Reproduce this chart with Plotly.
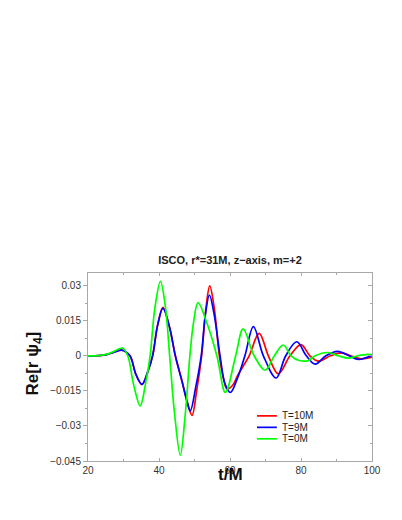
import plotly.graph_objects as go

# ---- data ----
series_names = ["T=10M", "T=9M", "T=0M"]
series_colors = ["#ff0000", "#0000ff", "#00ff00"]

t_red = [20, 23, 25.5, 27.5, 29.5, 31.8, 33.5, 35.2, 36.8, 38.2, 39.6, 41.1, 43.0, 44.6, 46.5, 48.0, 49.3,
         50.6, 52.0, 53.2, 54.3, 55.6, 57.0, 58.2, 59.2, 60.8, 62.3, 65.4, 68.2, 70.8, 73.6, 76.9, 80.0,
         82.5, 85.0, 88.3, 91.5, 94.0, 96.8, 100]
v_red = [0, 0.0001, 0.0006, 0.0016, 0.0024, 0, -0.008, -0.0123, -0.007, 0, 0.013, 0.0207, 0.012, 0, -0.011,
         -0.020, -0.0255, -0.015, 0, 0.020, 0.0299, 0.020, 0, -0.010, -0.0142, -0.0125, -0.008, 0, 0.0096,
         0, -0.0077, 0, 0.0048, 0, -0.0023, 0, 0.0012, 0, -0.0013, -0.0006]

t_blue = [20, 23, 25.5, 27.5, 29.5, 31.8, 33.5, 35.2, 36.8, 38.2, 39.6, 41.1, 43.0, 44.6, 46.5, 47.8, 48.8,
          50.4, 51.9, 53.1, 54.2, 55.5, 57.2, 58.6, 60.1, 62.0, 64.2, 66.6, 69.4, 73.0, 75.7, 78.8, 81.5,
          84.0, 87.0, 90.3, 93.5, 96.2, 100]
v_blue = [0, 0.0001, 0.0006, 0.0016, 0.0024, 0, -0.008, -0.0122, -0.007, 0, 0.013, 0.0203, 0.012, 0, -0.011,
          -0.019, -0.0236, -0.013, 0, 0.018, 0.026, 0.018, 0, -0.012, -0.0157, -0.010, 0, 0.0125, 0,
          -0.0095, 0, 0.0060, 0, -0.0036, 0, 0.0019, 0, -0.0016, 0.0002]

t_green = [20, 23, 25.5, 27.5, 29.7, 31.2, 32.8, 34.7, 36.2, 37.5, 38.8, 40.4, 41.8, 43.0, 44.4, 46.0, 47.4,
           48.7, 49.7, 51.0, 53.5, 56.3, 58.7, 61.6, 63.7, 66.8, 69.9, 72.5, 75.0, 77.2, 79.5, 82.0, 84.0,
           87.5, 90.5, 93.3, 96.0, 98.8, 100]
v_green = [0, 0.0001, 0.0007, 0.0020, 0.0033, 0, -0.012, -0.0214, -0.012, 0, 0.020, 0.0318, 0.021, 0, -0.025,
           -0.0425, -0.025, 0, 0.014, 0.0227, 0.014, 0, -0.0157, 0, 0.0115, 0, -0.0062, 0, 0.0046, 0,
           -0.0020, -0.0021, 0, 0.0014, 0, -0.0010, 0, 0.0006, 0.0005]

x_ticks = [20, 40, 60, 80, 100]
y_ticks = [-0.045, -0.03, -0.015, 0, 0.015, 0.03]
y_ticktext = ["\u22120.045", "\u22120.03", "\u22120.015", "0", "0.015", "0.03"]

title_text = "ISCO, r*=31M, z\u2212axis, m=+2"
x_label = "t/M"
y_label = "Re[r \u03c8<sub>4</sub>]"

FONT = "Liberation Sans, Arial, sans-serif"
AXCOL = "#a8a8a8"

fig = go.Figure()
for t, v, name, col in [(t_red, v_red, series_names[0], series_colors[0]),
                        (t_blue, v_blue, series_names[1], series_colors[1]),
                        (t_green, v_green, series_names[2], series_colors[2])]:
    fig.add_trace(go.Scatter(x=t, y=v, mode="lines", name=name,
                             line=dict(color=col, width=1.7, shape="spline", smoothing=1.0),
                             showlegend=False))

# dummy trace for the right-hand / top mirrored axes
fig.add_trace(go.Scatter(x=[None], y=[None], xaxis="x2", yaxis="y2", showlegend=False, hoverinfo="skip"))

# the page body adds an 8px offset, so the figure is 8px smaller and margins shifted
fig.update_layout(
    width=394, height=512,
    margin=dict(l=80, r=30, t=265, b=59),
    paper_bgcolor="white", plot_bgcolor="white",
    font=dict(family=FONT, size=10, color="#222"),
    title=dict(text="<b>" + title_text + "</b>", x=0.5, xref="paper", xanchor="center",
               y=1 - 252 / 512, yref="container", yanchor="middle",
               font=dict(family=FONT, size=11, color="#222")),
    xaxis=dict(range=[20, 100], tickvals=x_ticks, ticks="inside", ticklen=3, tickcolor=AXCOL,
               showline=True, linecolor=AXCOL, linewidth=1, mirror=True, showgrid=False,
               zeroline=False, tickfont=dict(size=10, color="#333"),
               minor=dict(dtick=10, tick0=20, ticks="inside", ticklen=2, tickcolor=AXCOL)),
    yaxis=dict(range=[-0.045, 0.0354], tickvals=y_ticks, ticktext=y_ticktext, ticks="outside",
               ticklen=4, tickcolor=AXCOL, showline=True, linecolor=AXCOL, linewidth=1,
               showgrid=False, zeroline=False, tickfont=dict(size=10, color="#333"),
               minor=dict(dtick=0.0075, tick0=-0.045, ticks="outside", ticklen=2, tickcolor=AXCOL)),
    xaxis2=dict(range=[20, 100], overlaying="x", side="top", showticklabels=False,
                tickvals=x_ticks, ticks="inside", ticklen=3, tickcolor=AXCOL, showline=False,
                showgrid=False, zeroline=False,
                minor=dict(dtick=10, tick0=20, ticks="inside", ticklen=2, tickcolor=AXCOL)),
    yaxis2=dict(range=[-0.045, 0.0354], overlaying="y", side="right", showticklabels=False,
                tickvals=y_ticks, ticks="inside", ticklen=4, tickcolor=AXCOL, showline=True,
                linecolor=AXCOL, showgrid=False, zeroline=False,
                minor=dict(dtick=0.0075, tick0=-0.045, ticks="inside", ticklen=2, tickcolor=AXCOL)),
)

# axis titles
fig.add_annotation(text="<b>" + x_label + "</b>", xref="paper", yref="paper", x=0.5, y=-0.07,
                   xanchor="center", yanchor="middle", showarrow=False,
                   font=dict(family=FONT, size=17, color="#111"))
fig.add_annotation(text="<b>" + y_label + "</b>", xref="paper", yref="paper", x=-0.189, y=0.52,
                   xanchor="center", yanchor="middle", textangle=-90, showarrow=False,
                   font=dict(family=FONT, size=17, color="#111"))

# legend (drawn as layout shapes + text)
leg_y = [0.24, 0.179, 0.118]
for name, col, ly in zip(series_names, series_colors, leg_y):
    fig.add_shape(type="line", xref="paper", yref="paper", x0=0.595, x1=0.665, y0=ly, y1=ly,
                  line=dict(color=col, width=1.7))
    fig.add_annotation(text=name, xref="paper", yref="paper", x=0.677, y=ly, xanchor="left",
                       yanchor="middle", showarrow=False, font=dict(family=FONT, size=10, color="#222"))

fig.write_html("out.html")
